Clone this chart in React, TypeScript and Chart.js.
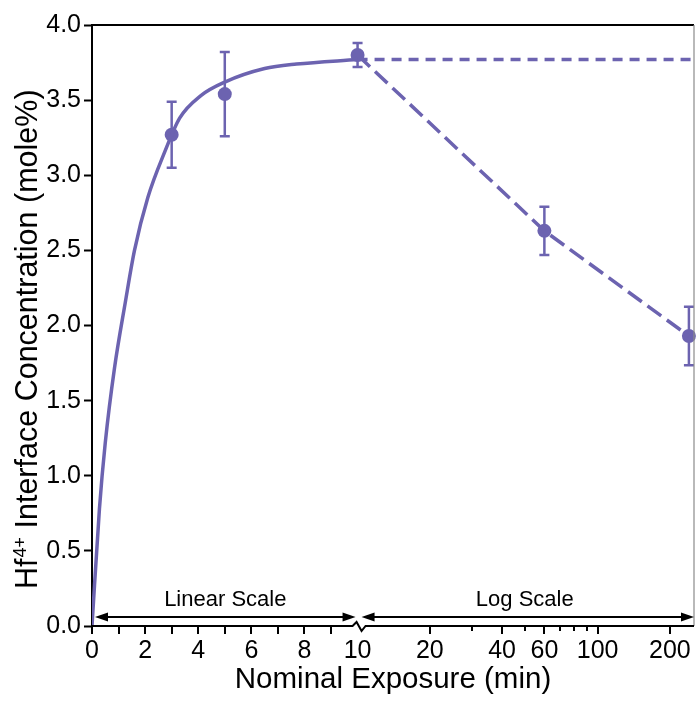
import React, { useEffect, useRef } from 'react';
import { Chart, registerables } from 'chart.js';

Chart.register(...registerables);

// ---- axis mapping: linear 0..10, then log10 beyond 10 ----
const BREAK_X = 10;
const LOG_K = 9.04; // linear units per decade in the log part
const X_MAX = 252;
const toU = (x: number) => (x <= BREAK_X ? x : BREAK_X + LOG_K * Math.log10(x / BREAK_X));

// ---- data ----
const fitX = [0, 0.28, 0.5, 0.85, 1.25, 1.6, 2.1, 2.75, 3.3, 4.1, 5, 6.5, 7.7, 10];
const fitY = [0, 0.78, 1.22, 1.72, 2.15, 2.5, 2.85, 3.16, 3.38, 3.53, 3.62, 3.71, 3.74, 3.77];

const plateauX = [10, 252];
const plateauY = [3.77, 3.77];

const decayX = [10, 60, 240];
const decayY = [3.8, 2.63, 1.93];

const measX = [3, 5, 10, 60, 240];
const measY = [3.27, 3.54, 3.8, 2.63, 1.93];
const measErr = [0.22, 0.28, 0.08, 0.16, 0.195];

const linearMajor = [0, 2, 4, 6, 8, 10];
const linearMinor = [1, 3, 5, 7, 9];
const logMajor = [20, 40, 60, 100, 200];
const logMinor = [30, 50, 70, 80, 90];
const allTicks = [...linearMajor, ...linearMinor, ...logMajor, ...logMinor].sort((a, b) => a - b);

const regionLabels = ['Linear Scale', 'Log Scale'];
const regionFrom = [0, 10];
const regionTo = [10, X_MAX];

const PURPLE = '#6c63b0';
const FONT = '"Liberation Sans", Arial, Helvetica, sans-serif';
const TICK_FONT = '"Liberation Sans Narrow", "Liberation Sans", Arial, sans-serif';

const overlay = {
  id: 'overlay',
  beforeDatasetsDraw(chart: any) {
    const { ctx } = chart;
    const xs = chart.scales.x;
    const ys = chart.scales.y;
    ctx.save();
    ctx.strokeStyle = PURPLE;
    ctx.lineWidth = 2.5;
    for (let i = 0; i < measX.length; i++) {
      const px = xs.getPixelForValue(toU(measX[i]));
      const pt = ys.getPixelForValue(measY[i] + measErr[i]);
      const pb = ys.getPixelForValue(measY[i] - measErr[i]);
      ctx.beginPath();
      ctx.moveTo(px, pt);
      ctx.lineTo(px, pb);
      ctx.moveTo(px - 5, pt);
      ctx.lineTo(px + 5, pt);
      ctx.moveTo(px - 5, pb);
      ctx.lineTo(px + 5, pb);
      ctx.stroke();
    }
    ctx.restore();
  },
  afterDraw(chart: any) {
    const { ctx, chartArea } = chart;
    const xs = chart.scales.x;
    const ys = chart.scales.y;
    const y0 = ys.getPixelForValue(0);
    ctx.save();

    // top & right frame
    ctx.strokeStyle = '#000';
    ctx.lineWidth = 2;
    ctx.beginPath();
    ctx.moveTo(chartArea.left - 1, chartArea.top);
    ctx.lineTo(chartArea.right, chartArea.top);
    ctx.stroke();
    ctx.strokeStyle = '#8a8a8a';
    ctx.lineWidth = 1.2;
    ctx.beginPath();
    ctx.moveTo(chartArea.right, chartArea.top);
    ctx.lineTo(chartArea.right, chartArea.bottom);
    ctx.stroke();

    // x axis line with break
    const bx = xs.getPixelForValue(toU(BREAK_X));
    ctx.strokeStyle = '#000';
    ctx.lineWidth = 2;
    ctx.lineJoin = 'miter';
    ctx.beginPath();
    ctx.moveTo(chartArea.left - 1, y0);
    ctx.lineTo(bx - 5, y0);
    ctx.lineTo(bx - 1, y0 - 4);
    ctx.lineTo(bx + 4, y0 + 5);
    ctx.lineTo(bx + 8, y0);
    ctx.lineTo(chartArea.right, y0);
    ctx.stroke();

    // x ticks
    ctx.beginPath();
    for (const v of allTicks) {
      if (v === BREAK_X) continue;
      const px = Math.round(xs.getPixelForValue(toU(v)));
      const len = logMinor.includes(v) ? 5 : 8;
      ctx.moveTo(px, y0);
      ctx.lineTo(px, y0 + len);
    }
    ctx.stroke();

    // region arrows and labels
    const ay = y0 - 9;
    for (let i = 0; i < regionLabels.length; i++) {
      const l = xs.getPixelForValue(toU(regionFrom[i])) + (i === 0 ? 3 : 4);
      const r = i === 0 ? xs.getPixelForValue(toU(regionTo[i])) - 2 : chartArea.right;
      ctx.strokeStyle = '#000';
      ctx.fillStyle = '#000';
      ctx.lineWidth = 2;
      ctx.beginPath();
      ctx.moveTo(l + 6, ay);
      ctx.lineTo(r - 6, ay);
      ctx.stroke();
      ctx.beginPath();
      ctx.moveTo(l, ay);
      ctx.lineTo(l + 13, ay - 4.5);
      ctx.lineTo(l + 13, ay + 4.5);
      ctx.closePath();
      ctx.fill();
      ctx.beginPath();
      ctx.moveTo(r, ay);
      ctx.lineTo(r - 13, ay - 4.5);
      ctx.lineTo(r - 13, ay + 4.5);
      ctx.closePath();
      ctx.fill();
      ctx.font = `22px ${FONT}`;
      ctx.textAlign = 'center';
      ctx.textBaseline = 'alphabetic';
      ctx.fillText(regionLabels[i], (l + r) / 2 - (i === 1 ? 3 : 0), y0 - 20);
    }

    // y axis title with superscript
    ctx.fillStyle = '#000';
    ctx.translate(37, 589);
    ctx.rotate(-Math.PI / 2);
    ctx.textAlign = 'left';
    ctx.textBaseline = 'alphabetic';
    ctx.font = `30.5px ${FONT}`;
    ctx.fillText('Hf', 0, 0);
    let w = ctx.measureText('Hf').width + 1;
    ctx.font = `18px ${FONT}`;
    ctx.fillText('4+', w, -11);
    w += ctx.measureText('4+').width;
    ctx.font = `30.5px ${FONT}`;
    ctx.fillText(' Interface Concentration (mole%)', w, 0);
    ctx.restore();
  },
};

export default function App() {
  const ref = useRef<HTMLCanvasElement | null>(null);

  useEffect(() => {
    if (!ref.current) return;
    const pts = (xa: number[], ya: number[]) => xa.map((x, i) => ({ x: toU(x), y: ya[i] }));
    const chart = new Chart(ref.current, {
      type: 'scatter',
      data: {
        datasets: [
          {
            label: 'fit',
            data: pts(fitX, fitY),
            showLine: true,
            borderColor: PURPLE,
            borderWidth: 3.5,
            pointRadius: 0,
            cubicInterpolationMode: 'monotone',
          } as any,
          {
            label: 'plateau',
            data: pts(plateauX, plateauY),
            showLine: true,
            borderColor: PURPLE,
            borderWidth: 3.5,
            borderDash: [10, 7],
            pointRadius: 0,
          },
          {
            label: 'decay',
            data: pts(decayX, decayY),
            showLine: true,
            borderColor: PURPLE,
            borderWidth: 3.5,
            borderDash: [17, 7],
            pointRadius: 0,
          },
          {
            label: 'measured',
            data: pts(measX, measY),
            showLine: false,
            backgroundColor: PURPLE,
            borderColor: PURPLE,
            borderWidth: 0,
            pointRadius: 7,
            clip: false,
          } as any,
        ],
      },
      options: {
        animation: false,
        responsive: false,
        devicePixelRatio: 1,
        layout: { autoPadding: false, padding: { top: 25, right: 2, left: 0, bottom: 0 } },
        plugins: { legend: { display: false }, tooltip: { enabled: false } },
        scales: {
          x: {
            type: 'linear',
            min: 0,
            max: toU(X_MAX),
            afterBuildTicks: (s: any) => {
              s.ticks = allTicks.map((v) => ({ value: toU(v) }));
            },
            afterFit: (s: any) => {
              s.height = 76;
              s.paddingLeft = 0;
              s.paddingRight = 0;
            },
            ticks: {
              autoSkip: false,
              maxRotation: 0,
              minRotation: 0,
              padding: 2,
              color: '#000',
              font: { family: TICK_FONT, size: 25 },
              callback: (_v: any, i: number) => {
                const v = allTicks[i];
                return linearMajor.includes(v) || logMajor.includes(v) ? String(v) : '';
              },
            },
            grid: {
              drawOnChartArea: false,
              drawTicks: true,
              tickLength: 8,
              tickColor: 'rgba(0,0,0,0)',
            },
            border: { display: false },
            title: {
              display: true,
              text: 'Nominal Exposure (min)',
              color: '#000',
              font: { family: FONT, size: 29.5 },
              padding: { top: 0, bottom: 4 },
            },
          },
          y: {
            type: 'linear',
            min: 0,
            max: 4,
            afterFit: (s: any) => {
              s.width = 92;
            },
            ticks: {
              stepSize: 0.5,
              padding: 3,
              color: '#000',
              font: { family: TICK_FONT, size: 25 },
              callback: (v: any) => Number(v).toFixed(1),
            },
            grid: {
              drawOnChartArea: false,
              drawTicks: true,
              tickLength: 8,
              tickWidth: 2,
              tickColor: '#000',
            },
            border: { display: true, color: '#000', width: 2 },
            title: { display: false },
          },
        },
      },
      plugins: [overlay],
    });
    return () => chart.destroy();
  }, []);

  return (
    <div style={{ position: 'fixed', left: 0, top: 0, width: 696, height: 702, background: '#fff' }}>
      <canvas ref={ref} width={696} height={702} style={{ display: 'block' }} />
    </div>
  );
}
